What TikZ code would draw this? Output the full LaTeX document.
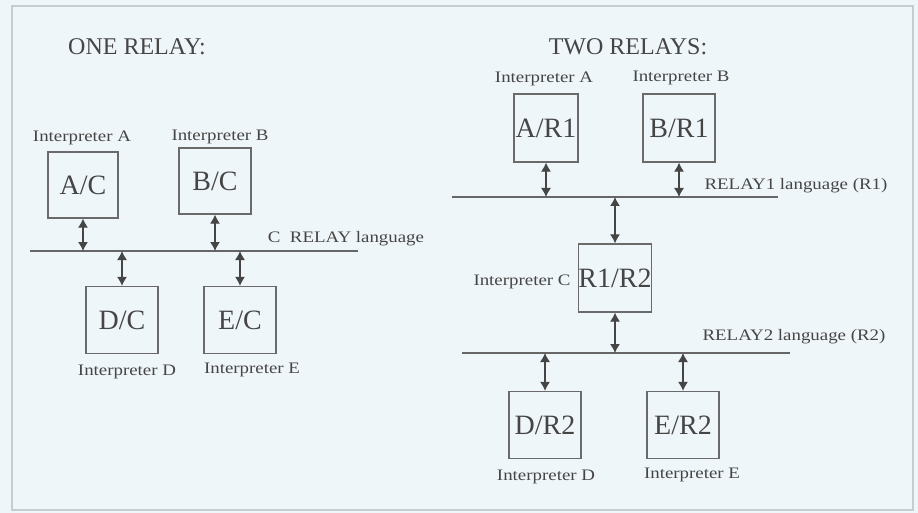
\documentclass[tikz,border=0pt]{standalone}
\usepackage{fontspec}
\setmainfont{Liberation Serif}
\newfontfamily\lblfont[FakeStretch=1.18]{Liberation Serif}
\usetikzlibrary{arrows.meta}
\definecolor{bgc}{HTML}{EFF6F9}
\definecolor{framec}{HTML}{C8CCCE}
\definecolor{inkc}{HTML}{454545}
\definecolor{boxc}{HTML}{6A6A6A}
\definecolor{busc}{HTML}{666666}
\tikzset{
  ibox/.style={draw=boxc, line width=1.3pt, minimum width=71pt, minimum height=67pt, inner sep=0pt,
    text=inkc, font=\fontsize{28}{28}\selectfont},
  lbl/.style={text=inkc, inner sep=0pt, font=\lblfont\fontsize{16}{16}\selectfont},
  title/.style={text=inkc, inner sep=0pt, font=\fontsize{24}{24}\selectfont},
  bus/.style={draw=busc, line width=1.6pt},
  link/.style={draw=inkc, line width=1.2pt, {Latex[length=9pt,width=10pt]}-{Latex[length=9pt,width=10pt]}}
}
\begin{document}
\begin{tikzpicture}[x=1pt,y=-1pt]
\useasboundingbox (0,0) rectangle (918,513);
\fill[bgc] (0,0) rectangle (918,513);
\draw[framec, line width=1.2pt] (12,6) rectangle (913,510);

% ---------- ONE RELAY ----------
\node[title] (t1) at (137,47) {ONE RELAY:};
\node[ibox, minimum width=70pt, minimum height=66pt] (ac) at (83,185) {A/C};
\node[ibox, minimum width=72pt, minimum height=66pt] (bc) at (215,181) {B/C};
\node[ibox, minimum width=72pt] (dc) at (122,320) {D/C};
\node[ibox, minimum width=72pt] (ec) at (240,320) {E/C};
\node[lbl] (ia1) at (82,138) {Interpreter A};
\node[lbl] (ib1) at (220,137) {Interpreter B};
\node[lbl] (id1) at (127,372) {Interpreter D};
\node[lbl] (ie1) at (252,370) {Interpreter E};
\node[lbl] (cl) at (346,239) {C\ \ RELAY language};
\coordinate (b1l) at (30,251);
\coordinate (b1r) at (358,251);
\draw[bus] (b1l) -- (b1r);
\draw[link] (ac.south) -- (ac.south |- b1l);
\draw[link] (bc.south) -- (bc.south |- b1l);
\draw[link] (dc.north |- b1l) -- (dc.north);
\draw[link] (ec.north |- b1l) -- (ec.north);

% ---------- TWO RELAYS ----------
\node[title] (t2) at (628,47) {TWO RELAYS:};
\node[ibox, minimum width=64pt, minimum height=68pt] (ar) at (546,128) {A/R1};
\node[ibox, minimum width=72pt, minimum height=68pt] (br) at (679,128) {B/R1};
\node[ibox, minimum width=71pt, minimum height=68pt] (cr) at (615,278) {R1/R2};
\node[ibox, minimum width=72pt] (dr) at (545,425) {D/R2};
\node[ibox, minimum width=72pt] (er) at (683,425) {E/R2};
\node[lbl] (ia2) at (544,79) {Interpreter A};
\node[lbl] (ib2) at (681,78) {Interpreter B};
\node[lbl] (ic2) at (522,282) {Interpreter C};
\node[lbl] (id2) at (546,477) {Interpreter D};
\node[lbl] (ie2) at (692,475) {Interpreter E};
\node[lbl] (r1l) at (796,186) {RELAY1 language (R1)};
\node[lbl] (r2l) at (794,337) {RELAY2 language (R2)};
\coordinate (b2l) at (452,197);
\coordinate (b2r) at (778,197);
\coordinate (b3l) at (462,353);
\coordinate (b3r) at (790,353);
\draw[bus] (b2l) -- (b2r);
\draw[bus] (b3l) -- (b3r);
\draw[link] (ar.south) -- (ar.south |- b2l);
\draw[link] (br.south) -- (br.south |- b2l);
\draw[link] (cr.north |- b2l) -- (cr.north);
\draw[link] (cr.south) -- (cr.south |- b3l);
\draw[link] (dr.north |- b3l) -- (dr.north);
\draw[link] (er.north |- b3l) -- (er.north);
\end{tikzpicture}
\end{document}
